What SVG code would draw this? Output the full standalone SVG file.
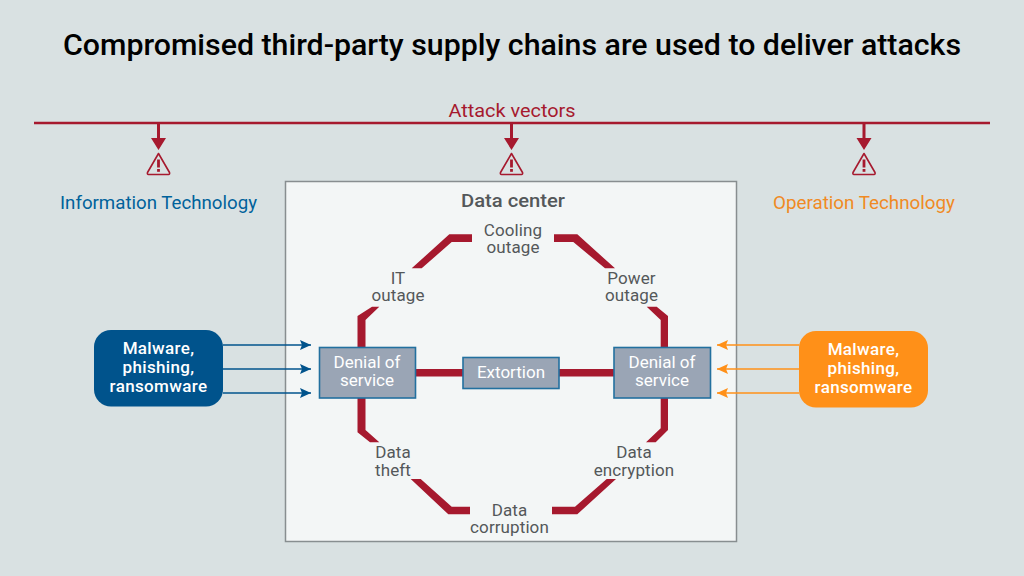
<svg xmlns="http://www.w3.org/2000/svg" width="1024" height="576" viewBox="0 0 1024 576">
<style>
text{font-family:Roboto,"Liberation Sans",sans-serif;text-anchor:middle}
.t{font-size:17px;fill:#54585a;letter-spacing:.1px}
.w{font-size:17px;fill:#fff}
.m{font-size:17px;fill:#fff;font-weight:500;letter-spacing:.35px}
.b{fill:#9aa5b5;stroke:#22709f;stroke-width:1.6}
.r{fill:#a6192e}
</style>
<defs>
<marker id="ab" markerUnits="userSpaceOnUse" markerWidth="12" markerHeight="10" refX="11" refY="5" orient="auto"><path d="M0 0L11 5L0 10L2 5Z" fill="#00538c"/></marker>
<marker id="ao" markerUnits="userSpaceOnUse" markerWidth="12" markerHeight="10" refX="11" refY="5" orient="auto"><path d="M0 0L11 5L0 10L2 5Z" fill="#ff9018"/></marker>
<g id="warn"><path d="M0 -10.500L11 8.500Q11.500 10.500 10 10.500H-10Q-11.500 10.500 -11 8.500Z" fill="none" stroke="#a6192e" stroke-width="1.6" stroke-linejoin="round"/><rect x="-1.400" y="-4.500" width="2.800" height="8" class="r"/><rect x="-1.400" y="5" width="2.800" height="2.800" class="r"/></g>
</defs>
<rect width="1024" height="576" fill="#d9e1e2"/>
<text x="512" y="55" font-size="29" font-weight="500" fill="#000" textLength="898" lengthAdjust="spacingAndGlyphs">Compromised third-party supply chains are used to deliver attacks</text>
<rect id="datacenter" x="285.500" y="181.500" width="451" height="360" fill="#f3f6f6" stroke="#888e90" stroke-width="1.500"/>
<g id="connectors">
<g class="r">
<path d="M34 121.800H990V124.300H34Z"/>
<path d="M157 123H160V138H166L158.500 150L151 138H157Z"/>
<path d="M510 123H513V138H519L511.500 150L504 138H510Z"/>
<path d="M862.500 123H865.500V138H871.500L864 150L856.500 138H862.500Z"/>
<path d="M357.500 347V316L372 306.700H379.300L365.500 320V347Z"/>
<path d="M411.700 268.300L449.300 234.300H472V242H451.700L421.700 268.300Z"/>
<path d="M554 234.300H577.300L615 268.300H605L573.300 242H554Z"/>
<path d="M646.700 306.700H656.700L668 316V347H660.700V320Z"/>
<path d="M357.500 398V432.300L370 442.300H379.300L365.500 430V398Z"/>
<path d="M668 398V430L655.700 442.300H646L660.700 428.300V398Z"/>
<path d="M410.700 479H420.700L451.700 506.700H470V514.300H448.300Z"/>
<path d="M552 506.700H575L606.700 479H616L577.300 514.300H552Z"/>
<path d="M415 369H463V376.500H415Z"/>
<path d="M559 369H614V376.500H559Z"/>
</g>
<g fill="none" stroke="#00538c" stroke-width="1.600" marker-end="url(#ab)">
<path d="M223 345H311"/><path d="M223 369H311"/><path d="M223 393H311"/>
</g>
<g fill="none" stroke="#ff9018" stroke-width="1.600" marker-end="url(#ao)">
<path d="M799 345H717"/><path d="M799 369H717"/><path d="M799 393H717"/>
</g>
</g>
<g id="attack-vectors"><text x="512" y="117" font-size="18" fill="#a6192e" textLength="127" lengthAdjust="spacingAndGlyphs">Attack vectors</text></g>
<g id="warn-it"><use href="#warn" x="158.500" y="164"/></g>
<g id="warn-dc"><use href="#warn" x="511.500" y="164"/></g>
<g id="warn-ot"><use href="#warn" x="864" y="164"/></g>
<g id="it"><text x="158.500" y="209" font-size="18" fill="#00629b" textLength="197" lengthAdjust="spacingAndGlyphs">Information Technology</text></g>
<g id="ot"><text x="864" y="209" font-size="18" fill="#f08a24" textLength="182" lengthAdjust="spacingAndGlyphs">Operation Technology</text></g>
<g id="dc-title"><text x="513" y="206.500" font-size="18" font-weight="500" fill="#54585a" textLength="104" lengthAdjust="spacingAndGlyphs">Data center</text></g>
<g id="cooling"><text class="t"><tspan x="513" y="236">Cooling</tspan><tspan x="513" y="253">outage</tspan></text></g>
<g id="it-outage"><text class="t"><tspan x="398" y="284">IT</tspan><tspan x="398" y="301">outage</tspan></text></g>
<g id="power"><text class="t"><tspan x="631.500" y="284">Power</tspan><tspan x="631.500" y="301">outage</tspan></text></g>
<g id="theft"><text class="t"><tspan x="393" y="458">Data</tspan><tspan x="393" y="475.500">theft</tspan></text></g>
<g id="encryption"><text class="t"><tspan x="634" y="458">Data</tspan><tspan x="634" y="475.500">encryption</tspan></text></g>
<g id="corruption"><text class="t"><tspan x="509.500" y="516">Data</tspan><tspan x="509.500" y="533">corruption</tspan></text></g>
<g id="dos-left"><rect class="b" x="319.500" y="347.500" width="96" height="50.500"/><text class="w"><tspan x="367" y="368">Denial of</tspan><tspan x="367" y="386">service</tspan></text></g>
<g id="extortion"><rect class="b" x="463" y="357.500" width="96" height="31"/><text class="w" x="511" y="378">Extortion</text></g>
<g id="dos-right"><rect class="b" x="614" y="347.500" width="96.500" height="50.500"/><text class="w"><tspan x="662" y="368">Denial of</tspan><tspan x="662" y="386">service</tspan></text></g>
<g id="malware-left"><rect x="94" y="330" width="129" height="76.500" rx="17" fill="#00538c"/><text class="m"><tspan x="158.500" y="354">Malware,</tspan><tspan x="158.500" y="373">phishing,</tspan><tspan x="158.500" y="392">ransomware</tspan></text></g>
<g id="malware-right"><rect x="799" y="331" width="129" height="76.500" rx="17" fill="#ff9018"/><text class="m"><tspan x="863.500" y="355">Malware,</tspan><tspan x="863.500" y="374">phishing,</tspan><tspan x="863.500" y="393">ransomware</tspan></text></g>
</svg>
